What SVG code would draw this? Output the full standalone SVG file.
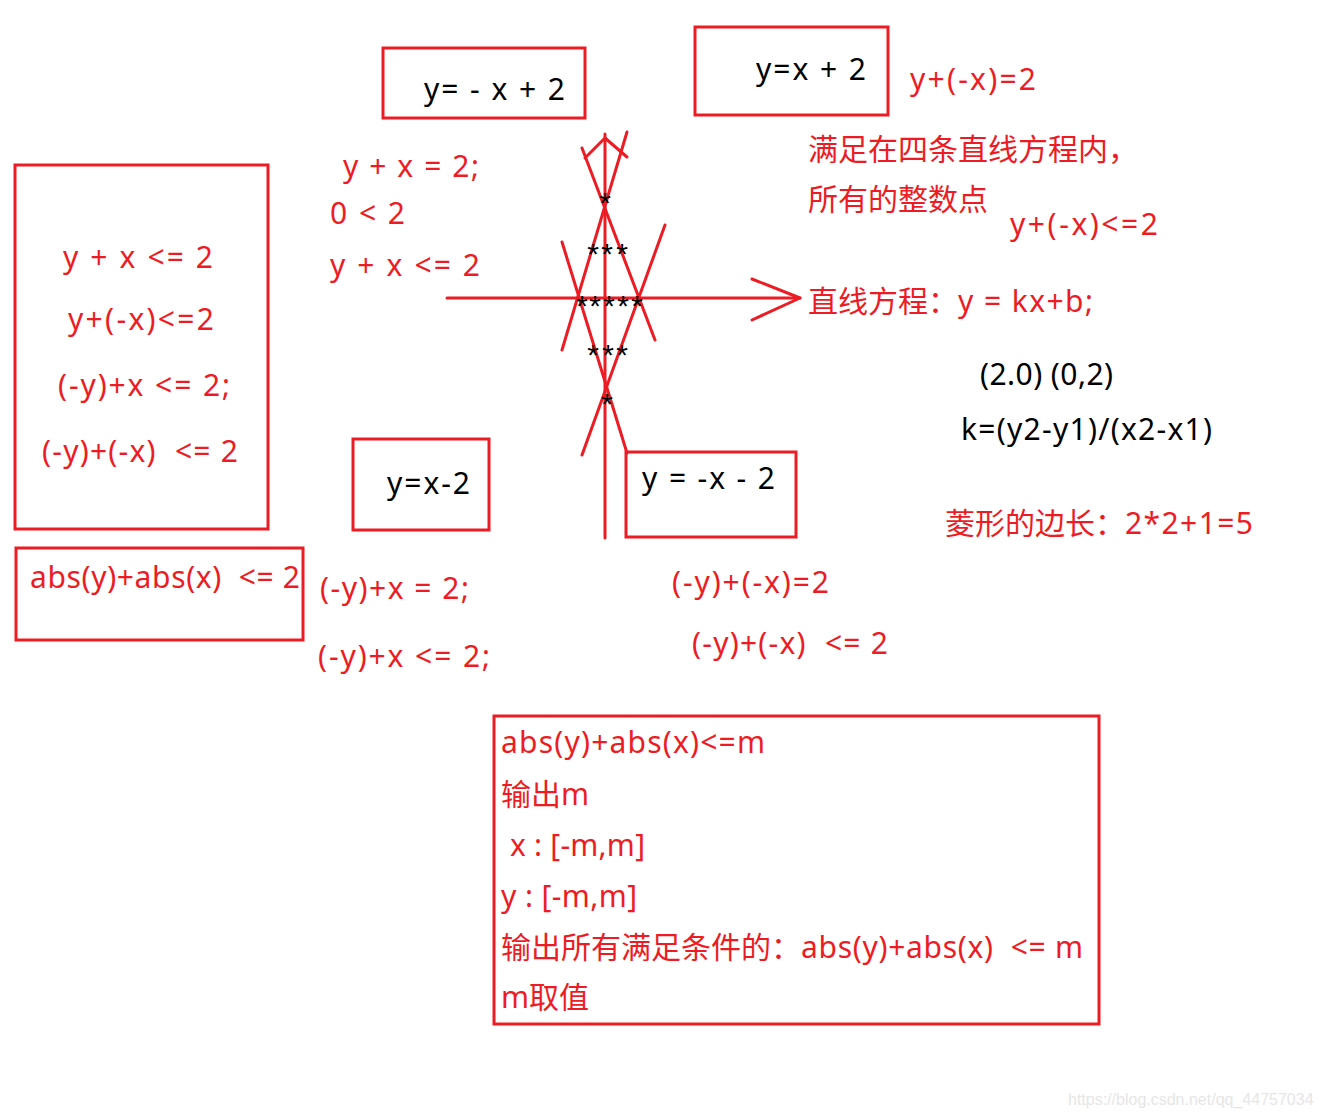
<svg xmlns="http://www.w3.org/2000/svg" width="1321" height="1117" viewBox="0 0 1321 1117">
<style>
text{font-family:"Noto Sans","Noto Sans CJK SC",sans-serif;font-size:30px;white-space:pre}
.cj{font-family:"Noto Sans CJK SC","Noto Sans",sans-serif;font-size:30px}
.r{fill:#ed1c24}
.k{fill:#000}
.box{fill:none;stroke:#ed1c24;stroke-width:3}
.ln{fill:none;stroke:#ed1c24;stroke-width:3;stroke-linecap:round;stroke-linejoin:round}
.st{font-family:"Liberation Sans",sans-serif;font-size:30px;fill:#000;text-anchor:middle}
.wm{font-family:"Liberation Sans",sans-serif;font-size:16px;fill:#e6e6e6}
</style>
<rect width="1321" height="1117" fill="#fff"/>

<g id="connectors">
<line class="ln" x1="605" y1="134" x2="605" y2="538"/>
<polyline class="ln" points="585,158 605,138 627,157"/>
<line class="ln" x1="447" y1="298" x2="800" y2="298"/>
<polyline class="ln" points="752,279 800,298 752,320"/>
<line class="ln" x1="582" y1="148" x2="655" y2="340"/>
<line class="ln" x1="627" y1="132" x2="562" y2="350"/>
<line class="ln" x1="665" y1="225" x2="582" y2="455"/>
<line class="ln" x1="562" y1="242" x2="627" y2="453"/>
</g>

<g id="stars">
<text class="st" x="605" y="213">*</text>
<text class="st" x="593 607 622" y="264">***</text>
<text class="st" x="582 595 609 623 637" y="316">*****</text>
<text class="st" x="593 608 622" y="365">***</text>
<text class="st" x="607" y="414">*</text>
</g>

<g id="node-y-neg-x-plus-2">
<rect class="box" x="383" y="48" width="202" height="70"/>
<text class="k" x="424" y="100" textLength="141">y= - x + 2</text>
</g>

<g id="node-y-x-plus-2">
<rect class="box" x="695" y="27" width="193" height="88"/>
<text class="k" x="756" y="80" textLength="110">y=x + 2</text>
</g>

<g id="node-y-x-minus-2">
<rect class="box" x="353" y="439" width="136" height="91"/>
<text class="k" x="387" y="494" textLength="83">y=x-2</text>
</g>

<g id="node-y-neg-x-minus-2">
<rect class="box" x="626" y="452" width="170" height="85"/>
<text class="k" x="642" y="489" textLength="133">y = -x - 2</text>
</g>

<g id="node-left-conditions">
<rect class="box" x="15" y="165" width="253" height="364"/>
<text class="r" x="63" y="268" textLength="150">y + x &lt;= 2</text>
<text class="r" x="68" y="330" textLength="146">y+(-x)&lt;=2</text>
<text class="r" x="58" y="396" textLength="172">(-y)+x &lt;= 2;</text>
<text class="r" x="42" y="462" textLength="196">(-y)+(-x)  &lt;= 2</text>
</g>

<g id="node-abs">
<rect class="box" x="16" y="548" width="287" height="92"/>
<text class="r" x="30" y="588" textLength="270">abs(y)+abs(x)  &lt;= 2</text>
</g>

<g id="notes-upper-left">
<text class="r" x="343" y="177" textLength="136">y + x = 2;</text>
<text class="r" x="330" y="224" textLength="75">0 &lt; 2</text>
<text class="r" x="330" y="276" textLength="150">y + x &lt;= 2</text>
</g>

<g id="notes-lower-left">
<text class="r" x="320" y="599" textLength="149">(-y)+x = 2;</text>
<text class="r" x="318" y="667" textLength="172">(-y)+x &lt;= 2;</text>
</g>

<g id="notes-lower-mid">
<text class="r" x="672" y="593" textLength="157">(-y)+(-x)=2</text>
<text class="r" x="692" y="654" textLength="196">(-y)+(-x)  &lt;= 2</text>
</g>

<g id="notes-right">
<text class="r" x="910" y="90" textLength="126">y+(-x)=2</text>
<text class="r cj" x="808" y="160">满足在四条直线方程内，</text>
<text class="r cj" x="808" y="210">所有的整数点</text>
<text class="r" x="1010" y="235" textLength="148">y+(-x)&lt;=2</text>
<text class="r cj" x="808" y="312">直线方程：</text>
<text class="r" x="958" y="312" textLength="135">y = kx+b;</text>
<text class="k" x="980" y="385" textLength="133">(2.0) (0,2)</text>
<text class="k" x="961" y="440" textLength="251">k=(y2-y1)/(x2-x1)</text>
<text class="r cj" x="945" y="534">菱形的边长：</text>
<text class="r" x="1125" y="534" textLength="128">2*2+1=5</text>
</g>

<g id="node-bottom">
<rect class="box" x="494" y="716" width="605" height="308"/>
<text class="r" x="501" y="753" textLength="264">abs(y)+abs(x)&lt;=m</text>
<text class="r" x="501" y="805"><tspan class="cj">输出</tspan>m</text>
<text class="r" x="510" y="856" textLength="135">x : [-m,m]</text>
<text class="r" x="501" y="907" textLength="136">y : [-m,m]</text>
<text class="r cj" x="501" y="958">输出所有满足条件的：</text>
<text class="r" x="801" y="958" textLength="282">abs(y)+abs(x)  &lt;= m</text>
<text class="r" x="501" y="1008">m<tspan class="cj">取值</tspan></text>
</g>

<text class="wm" x="1068" y="1105">https://blog.csdn.net/qq_44757034</text>
</svg>
